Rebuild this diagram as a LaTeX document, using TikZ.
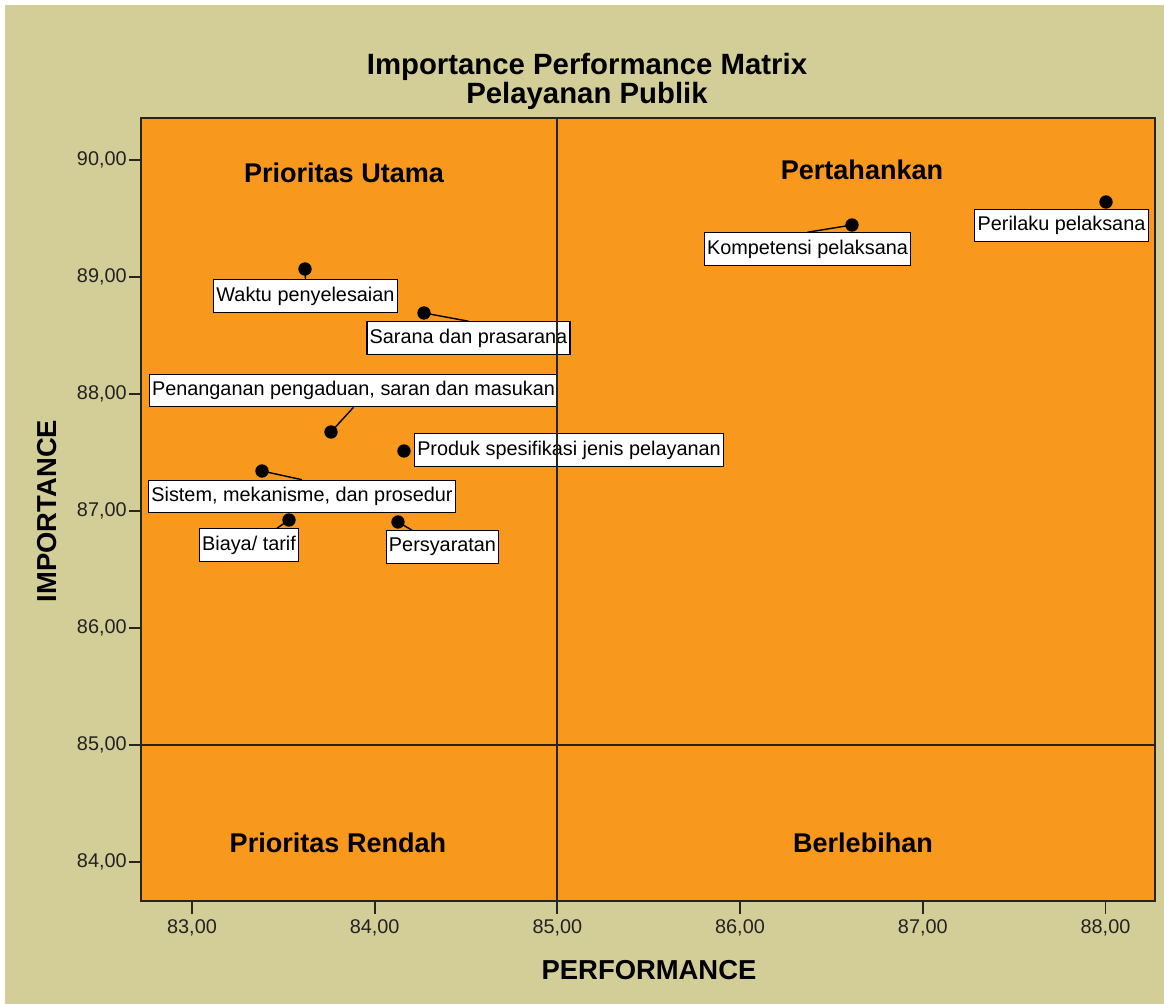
\documentclass[tikz,border=0pt]{standalone}
\usepackage{fontspec}
\setmainfont{Liberation Sans}
\definecolor{tanbg}{RGB}{211,206,152}
\definecolor{plotor}{RGB}{248,152,29}
\definecolor{frame}{RGB}{40,36,30}
\definecolor{ticktxt}{RGB}{34,34,34}
\tikzset{
  lbl/.style={draw=black, line width=0.7pt, fill=white, inner xsep=1.6pt, inner ysep=0pt,
    minimum height=18.4pt, font=\fontsize{11.3pt}{13pt}\selectfont, text=black},
  dot/.style={circle, fill=black, inner sep=0pt, minimum size=7.6pt},
  lead/.style={line width=0.8pt, black},
  quad/.style={font=\fontsize{15.4pt}{18pt}\selectfont\bfseries, text=black},
  axlab/.style={font=\fontsize{15.6pt}{18pt}\selectfont\bfseries, text=black},
  ticklab/.style={font=\fontsize{11.3pt}{13pt}\selectfont, text=ticktxt},
  tickline/.style={line width=1.1pt, frame},
}
\begin{document}
\begin{tikzpicture}[x=0.02cm, y=-0.02cm]
\useasboundingbox (0,0) rectangle (1164,1004);
\fill[white] (0,0) rectangle (1164,1004);
\fill[tanbg] (5,5) rectangle (1164,1004);
% title
\node[font=\fontsize{16.7pt}{20pt}\selectfont\bfseries] (t1) at (587,67) {Importance Performance Matrix};
\node[font=\fontsize{16.7pt}{20pt}\selectfont\bfseries] (t2) at (587,96) {Pelayanan Publik};
% plot area
\filldraw[fill=plotor, draw=frame, line width=1.2pt] (141,118) rectangle (1155,901);
% x ticks
\foreach \v/\px in {83/192,84/374.7,85/557.4,86/740,87/922.8,88/1105.5}{
  \draw[tickline] (\px,902) -- (\px,914);
  \node[ticklab] (xt\v) at (\px,928) {\v,00};
}
% y ticks
\foreach \v/\py in {90/160,89/277,88/394,87/511,86/628,85/745,84/862}{
  \draw[tickline] (129,\py) -- (141,\py);
  \node[ticklab, anchor=east, inner xsep=0pt] (yt\v) at (127,\py) {\v,00};
}
% axis labels
\node[axlab] (xlab) at (649,970) {PERFORMANCE};
\node[axlab, rotate=90] (ylab) at (47,511) {IMPORTANCE};
% quadrant labels
\node[quad] (q1) at (344,173) {Prioritas Utama};
\node[quad] (q2) at (862,170) {Pertahankan};
\node[quad] (q3) at (338,843) {Prioritas Rendah};
\node[quad] (q4) at (863,843) {Berlebihan};
% points
\node[dot] (dW) at (305,269) {};
\node[dot] (dS) at (424,313) {};
\node[dot] (dP) at (331,432) {};
\node[dot] (dR) at (404,451) {};
\node[dot] (dM) at (262,471) {};
\node[dot] (dB) at (289,520) {};
\node[dot] (dY) at (398,522) {};
\node[dot] (dK) at (852,225) {};
\node[dot] (dL) at (1106,202) {};
% labels
\node[lbl] (bW) at (305.5,296) {Waktu penyelesaian};
\node[lbl] (bS) at (468.5,338) {Sarana dan prasarana};
\node[lbl] (bP) at (353.5,390.5) {Penanganan pengaduan, saran dan masukan};
\node[lbl] (bR) at (569,450) {Produk spesifikasi jenis pelayanan};
\node[lbl] (bM) at (302,496.5) {Sistem, mekanisme, dan prosedur};
\node[lbl] (bB) at (249,545) {Biaya/ tarif};
\node[lbl] (bY) at (442.5,547) {Persyaratan};
\node[lbl] (bK) at (807.5,249) {Kompetensi pelaksana};
\node[lbl] (bL) at (1061.5,225.5) {Perilaku pelaksana};
% leaders
\draw[lead] (dW.center) -- (bW.north);
\draw[lead] (dS.center) -- (bS.north);
\draw[lead] (dP.center) -- (bP.south);
\draw[lead] (dM.center) -- (bM.north);
\draw[lead] (dB.center) -- ([xshift=0.56cm]bB.north);
\draw[lead] (dY.center) -- ([xshift=-0.61cm]bY.north);
\draw[lead] (dK.center) -- (bK.north);
% reference lines
\draw[line width=1.1pt, frame] (557.4,118) -- (557.4,901);
\draw[line width=1.1pt, frame] (141,745) -- (1155,745);
\end{tikzpicture}
\end{document}
